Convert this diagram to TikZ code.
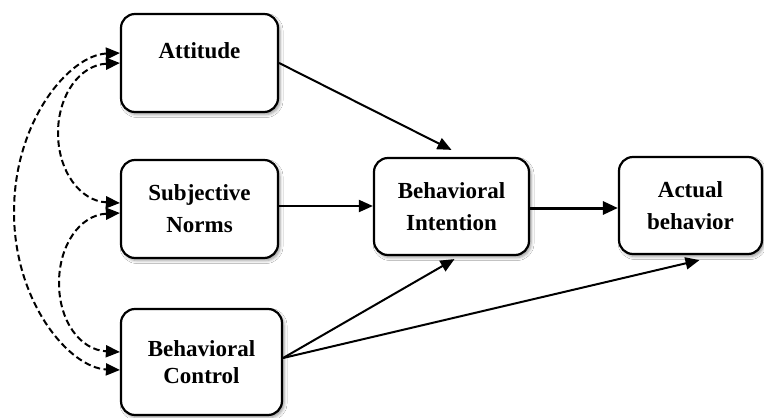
\documentclass[tikz,border=0pt]{standalone}
\usepackage{fontspec}
\setmainfont{Liberation Serif}
\usetikzlibrary{arrows.meta,shadows.blur}
\begin{document}
\begin{tikzpicture}[x=1pt,y=-1pt]
\tikzset{
  box/.style={draw=black, line width=2.2pt, rounded corners=14pt, fill=white,
    align=center, inner sep=0pt,
    font=\fontsize{23}{32}\selectfont\bfseries,
    blur shadow={shadow xshift=2pt, shadow yshift=-2.5pt, shadow blur radius=3pt, shadow opacity=40}},
  arr/.style={line width=2pt, -{Triangle[length=14pt,width=12pt]}},
  darr/.style={line width=2pt, dash pattern=on 6.5pt off 3.5pt,
    {Triangle[length=14pt,width=12pt]}-{Triangle[length=14pt,width=12pt]}},
}
\useasboundingbox (0,0) rectangle (764,418);
\fill[white] (0,0) rectangle (764,418);

\node[box, minimum width=157pt, minimum height=98pt] (att) at (199.5,63)
  {\raisebox{12pt}[\height][\depth]{Attitude}};
\node[box, minimum width=157pt, minimum height=98pt] (sub) at (199.5,209)
  {Subjective\\Norms};
\node[box, minimum width=161pt, minimum height=106pt,
  font=\fontsize{23}{27}\selectfont\bfseries] (ctl) at (201.5,362)
  {Behavioral\\Control};
\node[box, minimum width=155pt, minimum height=97pt] (int) at (451.5,206.5)
  {Behavioral\\Intention};
\node[box, minimum width=143pt, minimum height=97pt] (act) at (690.5,205.5)
  {Actual\\behavior};

\draw[arr] (att.east) -- ([yshift=7pt]int.north);
\draw[arr] ([yshift=3pt]sub.east) -- ([yshift=3pt]sub.east -| int.west);
\draw[line width=3pt, -{Triangle[length=15pt,width=13pt]}] ([yshift=-1.5pt]int.east) -- ([yshift=-1.5pt]int.east -| act.west);
\draw[arr] ([yshift=4pt]ctl.east) -- ([xshift=3pt,yshift=-3pt]int.south);
\draw[arr] ([yshift=4pt]ctl.east) -- ([xshift=9pt,yshift=-5pt]act.south);

\draw[darr] ([yshift=10pt]att.west) .. controls (70,55) and (14,120) .. (14,212)
  .. controls (14,303) and (70,368) .. ([yshift=-8pt]ctl.west);
\draw[darr] (att.west) .. controls (80,65) and (58,95) .. (58,133)
  .. controls (58,171) and (80,201) .. ([yshift=6pt]sub.west);
\draw[darr] ([yshift=-4pt]sub.west) .. controls (80,215) and (59,245) .. (59,283)
  .. controls (59,321) and (80,350) .. ([yshift=10pt]ctl.west);
\end{tikzpicture}
\end{document}
